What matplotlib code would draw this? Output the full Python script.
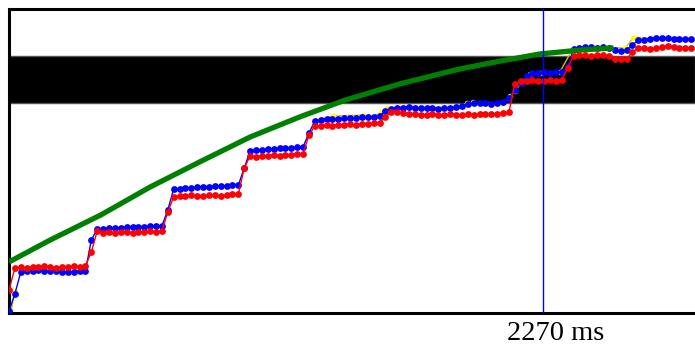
import numpy as np
import matplotlib
matplotlib.use("Agg")
import matplotlib.pyplot as plt
from matplotlib.transforms import blended_transform_factory

# Sample clock for the two tracked signals (ms)
sample_ms = np.arange(0, 2925, 25)

# Tracked level, upper (blue) signal
blue_level = [
    2, 19, 41,
    42, 42, 43, 42, 42, 42, 41, 41, 41, 42, 42,
    73, 84,
    84, 85, 85, 85, 86, 86, 86, 86, 87, 87, 87,
    103,
    124, 124, 125, 125, 126, 126, 126, 127, 127, 127, 128, 128,
    145,
    162, 163, 163, 164, 164, 165, 165, 165, 166, 166,
    180,
    192, 193, 194, 194, 194, 195, 195, 195, 196, 196, 196, 197,
    202,
    204, 205, 205, 206, 205, 205, 205, 205, 204, 205, 205, 206,
    207, 209, 210, 210, 210, 209, 210, 211,
    215, 223, 230, 237,
    240, 240, 241, 240, 241, 241,
    247,
    264, 265, 266, 266, 265, 266, 265, 263, 262, 263,
    268,
    273, 273, 274, 275, 275, 275, 274, 274, 274, 274,
]

# Tracked level, lower (red) signal
red_level = [
    23, 45,
    46, 45, 46, 46, 47, 46, 45, 46, 46, 47, 46, 47,
    61, 82,
    80, 81, 80, 81, 81, 80, 81, 81, 82, 81, 82,
    101,
    116, 117, 117, 118, 117, 117, 118, 118, 117, 118, 119, 119,
    145,
    157, 156, 157, 157, 158, 157, 158, 158, 159, 159,
    178,
    187, 187, 188, 187, 188, 188, 189, 188, 189, 189, 190, 190,
    196,
    201, 201, 200, 199, 199, 198, 198, 199, 198, 198, 199, 198,
    198, 199, 198, 199, 199, 199, 199, 200, 201,
    229,
    232, 232, 233, 232, 232, 233, 232, 233,
    245,
    257, 258, 258, 257, 258, 258, 257, 254, 254, 254,
    261,
    265, 265, 264, 265, 266, 267, 266, 265, 265, 265,
]

# Intermediate (yellow) estimate, logged only at some instants
yellow_ms = [9, 25, np.nan,
             1301, 1331, 1377, 1505, 1543, 1586, 1607, 1675, 1747, 1904,
             1947, 1972, 2032, 2096, 2130, 2151, 2181, 2215, 2257, 2342,
             2393, 2512, 2619, 2653, 2670, 2895]
yellow_level = [2, 22, np.nan,
                191, 194, 197, 198, 196, 201, 205, 206, 205, 206,
                210, 211, 209, 209, 217, 222, 231, 239, 240, 241,
                263, 266, 265, 275, 275, 274]

# Reference (green) curve
target_ms = [0, 175, 390, 600, 810, 1025, 1235, 1430, 1660, 1915,
             2090, 2255, 2430, 2570]
target_level = [51, 73, 98, 126, 151, 176, 196, 213, 229, 244,
                252, 259, 263, 265]

# Acceptance band and marker time
band_low, band_high = 210, 257
marker_ms = 2270
marker_label = "2270 ms"

fig = plt.figure(figsize=(6.95, 3.47), dpi=100)
ax = fig.add_axes([9 / 695, 1 - 313 / 347, 1 - 9 / 695, (313 - 9) / 347])
ax.set_xlim(0, 2916)
ax.set_ylim(0, 304)

ax.axhspan(band_low, band_high, facecolor="black", edgecolor="#555555",
           linewidth=1.0, zorder=1)

ax.plot(yellow_ms, yellow_level, color="#c8c800", linewidth=1.0,
        marker="o", markersize=4.0, markerfacecolor="#ffff00",
        markeredgewidth=0, zorder=2)
ax.plot(sample_ms, blue_level, color="#0000ff", linewidth=1.0,
        marker="o", markersize=4.9, markeredgewidth=0, zorder=3)
ax.plot(sample_ms, red_level, color="#ff0000", linewidth=1.0,
        marker="o", markersize=4.9, markeredgewidth=0, zorder=4)
ax.plot(target_ms, target_level, color="#008000", linewidth=3.8,
        solid_capstyle="butt", zorder=5)

ax.axvline(marker_ms, color="#0000ff", linewidth=1.0, zorder=6)

trans = blended_transform_factory(ax.transData, ax.transAxes)
ax.annotate(marker_label, xy=(marker_ms, 0), xycoords=trans,
            xytext=(-26, -5.5), textcoords="offset points",
            ha="left", va="top", fontsize=20.5,
            family="Liberation Serif", color="black")

ax.set_xticks([])
ax.set_yticks([])
for side in ("left", "top", "bottom"):
    ax.spines[side].set_linewidth(2.2)
    ax.spines[side].set_color("black")
ax.spines["right"].set_visible(False)

fig.savefig("out.png", dpi=100)
